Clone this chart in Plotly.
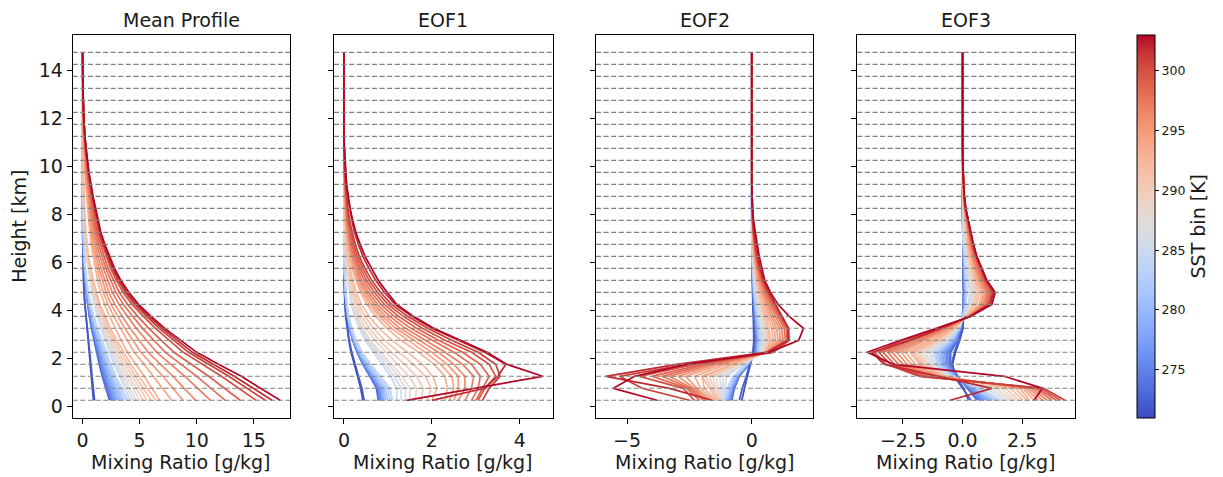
import plotly.graph_objects as go
from plotly.colors import sample_colorscale

# ---------------- data ----------------
heights_km = [0.25, 0.75, 1.25, 1.75, 2.25, 2.75, 3.25, 3.75, 4.25, 4.75,
              5.25, 5.75, 6.25, 6.75, 7.25, 7.75, 8.25, 8.75, 9.25, 9.75,
              10.25, 10.75, 11.25, 11.75, 12.25, 12.75, 13.25, 13.75, 14.25, 14.75]

sst_bins = [271, 272, 273, 274, 275, 276, 277, 278, 279, 280, 281, 282, 283, 284, 285, 286, 287,
            288, 289, 290, 291, 292, 293, 294, 295, 296, 297, 298, 299, 300, 301, 302, 303]

panel_titles = ["Mean Profile", "EOF1", "EOF2", "EOF3"]
x_label = "Mixing Ratio [g/kg]"
y_label = "Height [km]"
cbar_label = "SST bin [K]"
y_ticks = [0, 2, 4, 6, 8, 10, 12, 14]
x_ticks = [[0, 5, 10, 15], [0, 2, 4], [-5, 0], [-2.5, 0.0, 2.5]]
x_tickformats = ["", "", "", ".1f"]
cbar_ticks = [275, 280, 285, 290, 295, 300]

mean_profile = [
    [0.95, 0.86, 0.76, 0.66, 0.55, 0.45, 0.35, 0.26, 0.18, 0.12, 0.08, 0.05, 0.03, 0.02, 0.01, 0, 0, 0, 0, 0, 0, 0, 0, 0, 0, 0, 0, 0, 0, 0],
    [1.05, 0.94, 0.83, 0.72, 0.6, 0.49, 0.38, 0.28, 0.2, 0.13, 0.09, 0.06, 0.04, 0.02, 0.01, 0, 0, 0, 0, 0, 0, 0, 0, 0, 0, 0, 0, 0, 0, 0],
    [2.35, 2.02, 1.72, 1.46, 1.22, 0.99, 0.78, 0.59, 0.42, 0.31, 0.21, 0.14, 0.09, 0.07, 0.05, 0.02, 0.02, 0, 0, 0, 0, 0, 0, 0, 0, 0, 0, 0, 0, 0],
    [2.5, 2.15, 1.83, 1.55, 1.3, 1.05, 0.83, 0.63, 0.45, 0.33, 0.23, 0.15, 0.1, 0.08, 0.05, 0.03, 0.03, 0, 0, 0, 0, 0, 0, 0, 0, 0, 0, 0, 0, 0],
    [2.6, 2.24, 1.9, 1.61, 1.35, 1.09, 0.86, 0.65, 0.47, 0.34, 0.23, 0.16, 0.1, 0.08, 0.05, 0.03, 0.03, 0, 0, 0, 0, 0, 0, 0, 0, 0, 0, 0, 0, 0],
    [2.7, 2.32, 1.97, 1.67, 1.4, 1.13, 0.89, 0.68, 0.49, 0.35, 0.24, 0.16, 0.11, 0.08, 0.05, 0.03, 0.03, 0, 0, 0, 0, 0, 0, 0, 0, 0, 0, 0, 0, 0],
    [2.85, 2.45, 2.08, 1.77, 1.48, 1.2, 0.94, 0.71, 0.51, 0.37, 0.26, 0.17, 0.11, 0.09, 0.06, 0.03, 0.03, 0, 0, 0, 0, 0, 0, 0, 0, 0, 0, 0, 0, 0],
    [3.0, 2.58, 2.19, 1.86, 1.56, 1.26, 0.99, 0.75, 0.54, 0.39, 0.27, 0.18, 0.12, 0.09, 0.06, 0.03, 0.03, 0, 0, 0, 0, 0, 0, 0, 0, 0, 0, 0, 0, 0],
    [3.15, 2.71, 2.3, 1.95, 1.64, 1.32, 1.04, 0.79, 0.57, 0.41, 0.28, 0.19, 0.13, 0.09, 0.06, 0.03, 0.03, 0, 0, 0, 0, 0, 0, 0, 0, 0, 0, 0, 0, 0],
    [3.3, 2.84, 2.41, 2.05, 1.72, 1.39, 1.09, 0.83, 0.59, 0.43, 0.3, 0.2, 0.13, 0.1, 0.07, 0.03, 0.03, 0, 0, 0, 0, 0, 0, 0, 0, 0, 0, 0, 0, 0],
    [3.45, 2.97, 2.52, 2.14, 1.79, 1.45, 1.14, 0.86, 0.62, 0.45, 0.31, 0.21, 0.14, 0.1, 0.07, 0.03, 0.03, 0, 0, 0, 0, 0, 0, 0, 0, 0, 0, 0, 0, 0],
    [3.6, 3.1, 2.63, 2.23, 1.87, 1.51, 1.19, 0.9, 0.65, 0.47, 0.32, 0.22, 0.14, 0.11, 0.07, 0.04, 0.04, 0, 0, 0, 0, 0, 0, 0, 0, 0, 0, 0, 0, 0],
    [3.8, 3.27, 2.77, 2.36, 1.98, 1.6, 1.25, 0.95, 0.68, 0.49, 0.34, 0.23, 0.15, 0.11, 0.08, 0.04, 0.04, 0, 0, 0, 0, 0, 0, 0, 0, 0, 0, 0, 0, 0],
    [4.0, 3.44, 2.92, 2.48, 2.08, 1.68, 1.32, 1.0, 0.72, 0.52, 0.36, 0.24, 0.16, 0.12, 0.08, 0.04, 0.04, 0, 0, 0, 0, 0, 0, 0, 0, 0, 0, 0, 0, 0],
    [4.2, 3.7, 3.23, 2.77, 2.35, 1.97, 1.6, 1.3, 1.01, 0.8, 0.63, 0.46, 0.34, 0.25, 0.19, 0.14, 0.1, 0.07, 0.05, 0.03, 0.02, 0.01, 0.01, 0, 0, 0, 0, 0, 0, 0],
    [4.45, 3.92, 3.43, 2.94, 2.49, 2.09, 1.69, 1.38, 1.07, 0.85, 0.67, 0.49, 0.36, 0.27, 0.2, 0.15, 0.11, 0.08, 0.05, 0.04, 0.02, 0.01, 0.01, 0, 0, 0, 0, 0, 0, 0],
    [4.7, 4.14, 3.62, 3.1, 2.63, 2.21, 1.79, 1.46, 1.13, 0.89, 0.71, 0.52, 0.38, 0.28, 0.21, 0.16, 0.11, 0.08, 0.06, 0.04, 0.02, 0.01, 0.01, 0, 0, 0, 0, 0, 0, 0],
    [5.0, 4.4, 3.85, 3.3, 2.8, 2.35, 1.9, 1.55, 1.2, 0.95, 0.75, 0.55, 0.4, 0.3, 0.23, 0.17, 0.12, 0.09, 0.06, 0.04, 0.03, 0.02, 0.01, 0.01, 0, 0, 0, 0, 0, 0],
    [5.3, 4.66, 4.08, 3.5, 2.97, 2.49, 2.01, 1.64, 1.27, 1.01, 0.8, 0.58, 0.42, 0.32, 0.24, 0.17, 0.13, 0.09, 0.06, 0.04, 0.03, 0.02, 0.01, 0.01, 0, 0, 0, 0, 0, 0],
    [5.65, 4.97, 4.35, 3.73, 3.16, 2.66, 2.15, 1.75, 1.36, 1.07, 0.85, 0.62, 0.45, 0.34, 0.25, 0.19, 0.14, 0.1, 0.07, 0.05, 0.03, 0.02, 0.01, 0.01, 0, 0, 0, 0, 0, 0],
    [6.0, 5.28, 4.62, 3.96, 3.36, 2.82, 2.28, 1.86, 1.44, 1.14, 0.9, 0.66, 0.48, 0.36, 0.27, 0.2, 0.14, 0.1, 0.07, 0.05, 0.03, 0.02, 0.01, 0.01, 0, 0, 0, 0, 0, 0],
    [6.4, 5.63, 4.93, 4.22, 3.58, 3.01, 2.43, 1.98, 1.54, 1.22, 0.96, 0.7, 0.51, 0.38, 0.29, 0.21, 0.15, 0.11, 0.08, 0.05, 0.03, 0.02, 0.01, 0.01, 0, 0, 0, 0, 0, 0],
    [6.75, 6.08, 5.4, 4.66, 3.92, 3.38, 2.84, 2.36, 1.92, 1.57, 1.32, 1.09, 0.92, 0.76, 0.62, 0.53, 0.45, 0.36, 0.28, 0.22, 0.17, 0.11, 0.08, 0.05, 0.03, 0.02, 0.01, 0.01, 0.01, 0],
    [7.8, 7.02, 6.24, 5.38, 4.52, 3.9, 3.28, 2.73, 2.22, 1.81, 1.52, 1.26, 1.06, 0.88, 0.72, 0.61, 0.51, 0.41, 0.33, 0.25, 0.2, 0.13, 0.09, 0.06, 0.04, 0.02, 0.02, 0.01, 0.01, 0],
    [8.8, 7.92, 7.04, 6.07, 5.1, 4.4, 3.7, 3.08, 2.5, 2.05, 1.72, 1.43, 1.2, 0.99, 0.81, 0.69, 0.58, 0.47, 0.37, 0.28, 0.22, 0.15, 0.11, 0.07, 0.04, 0.03, 0.02, 0.01, 0.01, 0],
    [9.9, 8.91, 7.92, 6.83, 5.74, 4.95, 4.16, 3.47, 2.82, 2.31, 1.93, 1.6, 1.35, 1.12, 0.91, 0.77, 0.65, 0.52, 0.42, 0.32, 0.25, 0.17, 0.12, 0.08, 0.05, 0.03, 0.02, 0.01, 0.01, 0],
    [11.2, 10.08, 8.96, 7.73, 6.5, 5.6, 4.7, 3.92, 3.19, 2.61, 2.18, 1.81, 1.52, 1.27, 1.03, 0.87, 0.74, 0.59, 0.47, 0.36, 0.28, 0.19, 0.13, 0.09, 0.06, 0.03, 0.02, 0.01, 0.01, 0],
    [12.5, 11.25, 10.0, 8.63, 7.25, 6.25, 5.25, 4.38, 3.56, 2.91, 2.44, 2.03, 1.7, 1.41, 1.15, 0.98, 0.83, 0.66, 0.53, 0.4, 0.31, 0.21, 0.15, 0.1, 0.06, 0.04, 0.03, 0.01, 0.01, 0],
    [13.8, 12.42, 11.04, 9.52, 8.0, 6.9, 5.8, 4.83, 3.93, 3.21, 2.69, 2.24, 1.88, 1.56, 1.27, 1.08, 0.91, 0.73, 0.58, 0.44, 0.35, 0.23, 0.17, 0.11, 0.07, 0.04, 0.03, 0.01, 0.01, 0],
    [15.2, 13.68, 12.16, 10.49, 8.82, 7.6, 6.38, 5.32, 4.33, 3.54, 2.96, 2.46, 2.07, 1.72, 1.4, 1.19, 1.0, 0.81, 0.64, 0.49, 0.38, 0.26, 0.18, 0.12, 0.08, 0.05, 0.03, 0.02, 0.02, 0],
    [16.0, 14.4, 12.8, 11.04, 9.28, 8.0, 6.72, 5.6, 4.56, 3.73, 3.12, 2.59, 2.18, 1.81, 1.47, 1.25, 1.06, 0.85, 0.67, 0.51, 0.4, 0.27, 0.19, 0.13, 0.08, 0.05, 0.03, 0.02, 0.02, 0],
    [16.6, 14.94, 13.28, 11.45, 9.63, 8.3, 6.97, 5.81, 4.73, 3.87, 3.24, 2.69, 2.26, 1.88, 1.53, 1.29, 1.1, 0.88, 0.7, 0.53, 0.42, 0.28, 0.2, 0.13, 0.08, 0.05, 0.03, 0.02, 0.02, 0],
    [17.3, 15.6, 13.9, 11.9, 10.0, 8.6, 7.2, 6.0, 4.9, 4.05, 3.35, 2.8, 2.35, 1.95, 1.6, 1.35, 1.15, 0.92, 0.72, 0.56, 0.43, 0.3, 0.2, 0.13, 0.08, 0.05, 0.03, 0.02, 0.01, 0.01],
]

eof1 = [
    [0.43, 0.38, 0.31, 0.23, 0.16, 0.11, 0.07, 0.04, 0.02, 0.01, 0, 0, 0, 0, 0, 0, 0, 0, 0, 0, 0, 0, 0, 0, 0, 0, 0, 0, 0, 0],
    [0.46, 0.41, 0.33, 0.25, 0.18, 0.12, 0.08, 0.05, 0.03, 0.01, 0, 0, 0, 0, 0, 0, 0, 0, 0, 0, 0, 0, 0, 0, 0, 0, 0, 0, 0, 0],
    [0.78, 0.74, 0.59, 0.43, 0.3, 0.2, 0.12, 0.08, 0.05, 0.03, 0.02, 0.01, 0, 0, 0, 0, 0, 0, 0, 0, 0, 0, 0, 0, 0, 0, 0, 0, 0, 0],
    [0.8, 0.76, 0.6, 0.44, 0.3, 0.2, 0.13, 0.08, 0.05, 0.03, 0.02, 0.01, 0, 0, 0, 0, 0, 0, 0, 0, 0, 0, 0, 0, 0, 0, 0, 0, 0, 0],
    [0.82, 0.78, 0.62, 0.45, 0.31, 0.21, 0.13, 0.08, 0.05, 0.03, 0.02, 0.01, 0, 0, 0, 0, 0, 0, 0, 0, 0, 0, 0, 0, 0, 0, 0, 0, 0, 0],
    [0.84, 0.8, 0.63, 0.46, 0.32, 0.21, 0.13, 0.08, 0.05, 0.03, 0.02, 0.01, 0, 0, 0, 0, 0, 0, 0, 0, 0, 0, 0, 0, 0, 0, 0, 0, 0, 0],
    [0.86, 0.82, 0.65, 0.47, 0.33, 0.22, 0.14, 0.09, 0.05, 0.03, 0.02, 0.01, 0, 0, 0, 0, 0, 0, 0, 0, 0, 0, 0, 0, 0, 0, 0, 0, 0, 0],
    [0.88, 0.84, 0.66, 0.48, 0.33, 0.22, 0.14, 0.09, 0.05, 0.03, 0.02, 0.01, 0, 0, 0, 0, 0, 0, 0, 0, 0, 0, 0, 0, 0, 0, 0, 0, 0, 0],
    [0.9, 0.86, 0.68, 0.5, 0.34, 0.23, 0.14, 0.09, 0.05, 0.03, 0.02, 0.01, 0, 0, 0, 0, 0, 0, 0, 0, 0, 0, 0, 0, 0, 0, 0, 0, 0, 0],
    [0.93, 0.88, 0.7, 0.51, 0.35, 0.23, 0.15, 0.09, 0.06, 0.03, 0.02, 0.01, 0, 0, 0, 0, 0, 0, 0, 0, 0, 0, 0, 0, 0, 0, 0, 0, 0, 0],
    [0.96, 0.91, 0.72, 0.53, 0.36, 0.24, 0.15, 0.1, 0.06, 0.03, 0.02, 0.01, 0, 0, 0, 0, 0, 0, 0, 0, 0, 0, 0, 0, 0, 0, 0, 0, 0, 0],
    [1.0, 0.95, 0.75, 0.55, 0.38, 0.25, 0.16, 0.1, 0.06, 0.04, 0.02, 0.01, 0, 0, 0, 0, 0, 0, 0, 0, 0, 0, 0, 0, 0, 0, 0, 0, 0, 0],
    [1.05, 1.0, 0.79, 0.58, 0.4, 0.26, 0.17, 0.11, 0.06, 0.04, 0.02, 0.01, 0, 0, 0, 0, 0, 0, 0, 0, 0, 0, 0, 0, 0, 0, 0, 0, 0, 0],
    [1.1, 1.05, 0.83, 0.61, 0.42, 0.28, 0.18, 0.11, 0.07, 0.04, 0.02, 0.01, 0, 0, 0, 0, 0, 0, 0, 0, 0, 0, 0, 0, 0, 0, 0, 0, 0, 0],
    [1.2, 1.2, 1.06, 0.86, 0.66, 0.48, 0.35, 0.24, 0.17, 0.12, 0.08, 0.06, 0.04, 0.02, 0.01, 0.01, 0, 0, 0, 0, 0, 0, 0, 0, 0, 0, 0, 0, 0, 0],
    [1.3, 1.3, 1.14, 0.94, 0.72, 0.52, 0.38, 0.26, 0.18, 0.13, 0.09, 0.07, 0.04, 0.03, 0.01, 0.01, 0, 0, 0, 0, 0, 0, 0, 0, 0, 0, 0, 0, 0, 0],
    [1.4, 1.4, 1.23, 1.01, 0.77, 0.56, 0.41, 0.28, 0.2, 0.14, 0.1, 0.07, 0.04, 0.03, 0.01, 0.01, 0, 0, 0, 0, 0, 0, 0, 0, 0, 0, 0, 0, 0, 0],
    [1.5, 1.5, 1.32, 1.08, 0.83, 0.6, 0.44, 0.3, 0.21, 0.15, 0.11, 0.08, 0.05, 0.03, 0.02, 0.02, 0, 0, 0, 0, 0, 0, 0, 0, 0, 0, 0, 0, 0, 0],
    [1.62, 1.65, 1.48, 1.22, 0.95, 0.7, 0.5, 0.35, 0.25, 0.18, 0.13, 0.09, 0.06, 0.04, 0.02, 0.02, 0, 0, 0, 0, 0, 0, 0, 0, 0, 0, 0, 0, 0, 0],
    [1.75, 1.8, 1.65, 1.38, 1.08, 0.8, 0.58, 0.41, 0.29, 0.21, 0.15, 0.1, 0.07, 0.05, 0.03, 0.02, 0, 0, 0, 0, 0, 0, 0, 0, 0, 0, 0, 0, 0, 0],
    [1.9, 1.98, 1.85, 1.58, 1.25, 0.93, 0.67, 0.48, 0.34, 0.24, 0.17, 0.12, 0.08, 0.05, 0.03, 0.02, 0, 0, 0, 0, 0, 0, 0, 0, 0, 0, 0, 0, 0, 0],
    [2.0, 2.12, 2.02, 1.78, 1.45, 1.1, 0.8, 0.57, 0.4, 0.28, 0.2, 0.14, 0.09, 0.06, 0.04, 0.02, 0, 0, 0, 0, 0, 0, 0, 0, 0, 0, 0, 0, 0, 0],
    [2.3, 2.35, 2.3, 2.05, 1.7, 1.3, 0.98, 0.72, 0.52, 0.38, 0.27, 0.19, 0.13, 0.09, 0.06, 0.04, 0.03, 0.02, 0.01, 0, 0, 0, 0, 0, 0, 0, 0, 0, 0, 0],
    [2.4, 2.5, 2.45, 2.2, 1.85, 1.45, 1.08, 0.8, 0.58, 0.42, 0.3, 0.21, 0.15, 0.1, 0.07, 0.05, 0.03, 0.02, 0.01, 0, 0, 0, 0, 0, 0, 0, 0, 0, 0, 0],
    [2.5, 2.6, 2.6, 2.35, 2.0, 1.58, 1.18, 0.87, 0.63, 0.46, 0.34, 0.24, 0.17, 0.12, 0.08, 0.05, 0.04, 0.02, 0.01, 0, 0, 0, 0, 0, 0, 0, 0, 0, 0, 0],
    [2.6, 2.75, 2.75, 2.5, 2.15, 1.7, 1.28, 0.95, 0.69, 0.51, 0.37, 0.27, 0.19, 0.13, 0.09, 0.06, 0.04, 0.03, 0.02, 0.01, 0, 0, 0, 0, 0, 0, 0, 0, 0, 0],
    [2.75, 2.9, 2.95, 2.7, 2.3, 1.85, 1.4, 1.04, 0.76, 0.56, 0.41, 0.3, 0.21, 0.15, 0.1, 0.07, 0.05, 0.03, 0.02, 0.01, 0, 0, 0, 0, 0, 0, 0, 0, 0, 0],
    [2.9, 3.05, 3.1, 2.9, 2.5, 2.0, 1.52, 1.14, 0.84, 0.62, 0.46, 0.34, 0.24, 0.17, 0.12, 0.08, 0.06, 0.04, 0.02, 0.01, 0, 0, 0, 0, 0, 0, 0, 0, 0, 0],
    [3.0, 3.15, 3.3, 3.1, 2.7, 2.15, 1.65, 1.24, 0.92, 0.69, 0.51, 0.38, 0.27, 0.19, 0.14, 0.1, 0.07, 0.05, 0.03, 0.02, 0.01, 0, 0, 0, 0, 0, 0, 0, 0, 0],
    [3.05, 3.2, 3.45, 3.3, 2.9, 2.3, 1.78, 1.35, 1.0, 0.76, 0.57, 0.43, 0.31, 0.22, 0.16, 0.11, 0.08, 0.05, 0.03, 0.02, 0.01, 0, 0, 0, 0, 0, 0, 0, 0, 0],
    [3.15, 3.3, 3.55, 3.45, 3.05, 2.45, 1.9, 1.45, 1.08, 0.83, 0.63, 0.48, 0.35, 0.26, 0.19, 0.13, 0.09, 0.06, 0.04, 0.02, 0.01, 0, 0, 0, 0, 0, 0, 0, 0, 0],
    [2.0, 3.2, 3.5, 3.68, 3.2, 2.6, 2.0, 1.54, 1.16, 0.92, 0.72, 0.57, 0.43, 0.33, 0.24, 0.18, 0.13, 0.09, 0.06, 0.04, 0.02, 0.01, 0, 0, 0, 0, 0, 0, 0, 0],
    [1.43, 3.0, 4.52, 3.7, 3.25, 2.65, 2.04, 1.58, 1.2, 0.98, 0.78, 0.63, 0.48, 0.37, 0.27, 0.2, 0.14, 0.1, 0.06, 0.04, 0.02, 0.01, 0, 0, 0, 0, 0, 0, 0, 0],
]

eof2 = [
    [-0.4, -0.3, -0.18, -0.05, 0.05, 0.08, 0.08, 0.06, 0.04, 0.03, 0.02, 0.01, 0.01, 0, 0, 0, 0, 0, 0, 0, 0, 0, 0, 0, 0, 0, 0, 0, 0, 0],
    [-0.5, -0.38, -0.22, -0.08, 0.05, 0.1, 0.1, 0.08, 0.05, 0.03, 0.02, 0.01, 0.01, 0, 0, 0, 0, 0, 0, 0, 0, 0, 0, 0, 0, 0, 0, 0, 0, 0],
    [-0.8, -0.7, -0.5, -0.1, 0.12, 0.15, 0.12, 0.1, 0.06, 0.04, 0.02, 0.01, 0, 0, 0, 0, 0, 0, 0, 0, 0, 0, 0, 0, 0, 0, 0, 0, 0, 0],
    [-0.83, -0.72, -0.52, -0.11, 0.14, 0.17, 0.14, 0.11, 0.07, 0.05, 0.03, 0.02, 0.01, 0, 0, 0, 0, 0, 0, 0, 0, 0, 0, 0, 0, 0, 0, 0, 0, 0],
    [-0.86, -0.74, -0.54, -0.12, 0.15, 0.19, 0.16, 0.12, 0.08, 0.05, 0.03, 0.02, 0.01, 0.01, 0, 0, 0, 0, 0, 0, 0, 0, 0, 0, 0, 0, 0, 0, 0, 0],
    [-0.88, -0.77, -0.56, -0.13, 0.17, 0.2, 0.17, 0.14, 0.09, 0.06, 0.04, 0.02, 0.01, 0.01, 0, 0, 0, 0, 0, 0, 0, 0, 0, 0, 0, 0, 0, 0, 0, 0],
    [-0.91, -0.79, -0.58, -0.15, 0.18, 0.22, 0.19, 0.15, 0.1, 0.07, 0.04, 0.03, 0.01, 0.01, 0, 0, 0, 0, 0, 0, 0, 0, 0, 0, 0, 0, 0, 0, 0, 0],
    [-0.94, -0.82, -0.6, -0.16, 0.2, 0.24, 0.2, 0.16, 0.11, 0.07, 0.05, 0.03, 0.02, 0.01, 0.01, 0, 0, 0, 0, 0, 0, 0, 0, 0, 0, 0, 0, 0, 0, 0],
    [-0.97, -0.85, -0.62, -0.17, 0.21, 0.25, 0.22, 0.17, 0.12, 0.08, 0.05, 0.03, 0.02, 0.01, 0.01, 0, 0, 0, 0, 0, 0, 0, 0, 0, 0, 0, 0, 0, 0, 0],
    [-1.0, -0.87, -0.64, -0.19, 0.23, 0.27, 0.24, 0.19, 0.13, 0.09, 0.06, 0.04, 0.02, 0.01, 0.01, 0, 0, 0, 0, 0, 0, 0, 0, 0, 0, 0, 0, 0, 0, 0],
    [-1.03, -0.9, -0.66, -0.2, 0.24, 0.29, 0.26, 0.2, 0.14, 0.1, 0.06, 0.04, 0.02, 0.01, 0.01, 0, 0, 0, 0, 0, 0, 0, 0, 0, 0, 0, 0, 0, 0, 0],
    [-1.07, -0.93, -0.69, -0.22, 0.26, 0.31, 0.28, 0.22, 0.15, 0.1, 0.07, 0.04, 0.02, 0.02, 0.01, 0, 0, 0, 0, 0, 0, 0, 0, 0, 0, 0, 0, 0, 0, 0],
    [-1.11, -0.96, -0.72, -0.23, 0.28, 0.33, 0.3, 0.23, 0.16, 0.11, 0.07, 0.05, 0.03, 0.02, 0.01, 0, 0, 0, 0, 0, 0, 0, 0, 0, 0, 0, 0, 0, 0, 0],
    [-1.15, -1.0, -0.75, -0.25, 0.3, 0.35, 0.32, 0.25, 0.18, 0.12, 0.08, 0.05, 0.03, 0.02, 0.01, 0, 0, 0, 0, 0, 0, 0, 0, 0, 0, 0, 0, 0, 0, 0],
    [-1.15, -1.1, -1.0, -0.3, 0.35, 0.4, 0.38, 0.3, 0.22, 0.15, 0.1, 0.06, 0.04, 0.02, 0.01, 0.01, 0, 0, 0, 0, 0, 0, 0, 0, 0, 0, 0, 0, 0, 0],
    [-1.18, -1.18, -1.14, -0.36, 0.38, 0.45, 0.42, 0.33, 0.25, 0.17, 0.11, 0.07, 0.05, 0.03, 0.01, 0.01, 0, 0, 0, 0, 0, 0, 0, 0, 0, 0, 0, 0, 0, 0],
    [-1.21, -1.26, -1.28, -0.41, 0.42, 0.5, 0.47, 0.37, 0.28, 0.19, 0.13, 0.08, 0.05, 0.03, 0.02, 0.01, 0, 0, 0, 0, 0, 0, 0, 0, 0, 0, 0, 0, 0, 0],
    [-1.24, -1.34, -1.43, -0.47, 0.45, 0.55, 0.51, 0.4, 0.31, 0.21, 0.14, 0.09, 0.06, 0.03, 0.02, 0.01, 0, 0, 0, 0, 0, 0, 0, 0, 0, 0, 0, 0, 0, 0],
    [-1.28, -1.42, -1.57, -0.53, 0.49, 0.6, 0.56, 0.44, 0.34, 0.24, 0.16, 0.1, 0.06, 0.04, 0.02, 0.01, 0, 0, 0, 0, 0, 0, 0, 0, 0, 0, 0, 0, 0, 0],
    [-1.32, -1.5, -1.71, -0.59, 0.52, 0.65, 0.61, 0.48, 0.37, 0.26, 0.17, 0.11, 0.07, 0.04, 0.02, 0.01, 0, 0, 0, 0, 0, 0, 0, 0, 0, 0, 0, 0, 0, 0],
    [-1.36, -1.6, -1.86, -0.64, 0.56, 0.7, 0.65, 0.51, 0.39, 0.28, 0.18, 0.12, 0.07, 0.05, 0.03, 0.01, 0, 0, 0, 0, 0, 0, 0, 0, 0, 0, 0, 0, 0, 0],
    [-1.4, -1.7, -2.0, -0.7, 0.6, 0.75, 0.7, 0.55, 0.42, 0.3, 0.2, 0.13, 0.08, 0.05, 0.03, 0.01, 0, 0, 0, 0, 0, 0, 0, 0, 0, 0, 0, 0, 0, 0],
    [-1.45, -1.9, -2.0, -0.8, 0.5, 0.85, 0.8, 0.62, 0.48, 0.34, 0.23, 0.15, 0.09, 0.06, 0.03, 0.02, 0.01, 0, 0, 0, 0, 0, 0, 0, 0, 0, 0, 0, 0, 0],
    [-1.55, -2.05, -2.3, -1.0, 0.55, 0.95, 0.9, 0.7, 0.54, 0.38, 0.26, 0.17, 0.11, 0.07, 0.04, 0.02, 0.01, 0, 0, 0, 0, 0, 0, 0, 0, 0, 0, 0, 0, 0],
    [-1.65, -2.2, -2.65, -1.2, 0.6, 1.05, 1.0, 0.78, 0.6, 0.42, 0.29, 0.19, 0.12, 0.08, 0.04, 0.02, 0.01, 0, 0, 0, 0, 0, 0, 0, 0, 0, 0, 0, 0, 0],
    [-1.75, -2.3, -2.95, -1.4, 0.65, 1.15, 1.1, 0.86, 0.66, 0.47, 0.32, 0.21, 0.13, 0.09, 0.05, 0.03, 0.01, 0, 0, 0, 0, 0, 0, 0, 0, 0, 0, 0, 0, 0],
    [-1.85, -2.4, -3.3, -1.6, 0.68, 1.25, 1.2, 0.95, 0.72, 0.51, 0.35, 0.23, 0.15, 0.1, 0.05, 0.03, 0.01, 0, 0, 0, 0, 0, 0, 0, 0, 0, 0, 0, 0, 0],
    [-1.95, -2.5, -3.6, -1.8, 0.72, 1.35, 1.3, 1.03, 0.78, 0.55, 0.38, 0.25, 0.16, 0.11, 0.06, 0.03, 0.01, 0, 0, 0, 0, 0, 0, 0, 0, 0, 0, 0, 0, 0],
    [-2.1, -2.6, -4.0, -2.0, 0.75, 1.42, 1.38, 1.1, 0.84, 0.6, 0.41, 0.28, 0.18, 0.12, 0.07, 0.04, 0.02, 0, 0, 0, 0, 0, 0, 0, 0, 0, 0, 0, 0, 0],
    [-2.3, -2.75, -4.5, -2.3, 0.8, 1.47, 1.45, 1.17, 0.9, 0.64, 0.44, 0.3, 0.2, 0.13, 0.07, 0.04, 0.02, 0, 0, 0, 0, 0, 0, 0, 0, 0, 0, 0, 0, 0],
    [-2.5, -4.4, -5.3, -2.6, 0.85, 1.5, 1.47, 1.2, 0.93, 0.67, 0.46, 0.32, 0.22, 0.14, 0.08, 0.04, 0.02, 0, 0, 0, 0, 0, 0, 0, 0, 0, 0, 0, 0, 0],
    [-1.6, -3.3, -5.85, -3.0, 0.6, 1.45, 1.47, 1.2, 0.95, 0.7, 0.48, 0.34, 0.24, 0.16, 0.09, 0.05, 0.02, 0, 0, 0, 0, 0, 0, 0, 0, 0, 0, 0, 0, 0],
    [-3.8, -5.55, -4.7, -2.6, 0.7, 1.88, 2.07, 1.5, 1.05, 0.75, 0.52, 0.4, 0.3, 0.22, 0.13, 0.07, 0.03, 0.01, 0, 0, 0, 0, 0, 0, 0, 0, 0, 0, 0, 0],
]

eof3 = [
    [0.25, 0.05, -0.3, -0.42, -0.3, -0.12, 0.02, 0.05, 0.05, 0.04, 0.03, 0.02, 0.01, 0, 0, 0, 0, 0, 0, 0, 0, 0, 0, 0, 0, 0, 0, 0, 0, 0],
    [0.35, 0.0, -0.35, -0.45, -0.35, -0.15, 0.0, 0.05, 0.06, 0.05, 0.03, 0.02, 0.01, 0, 0, 0, 0, 0, 0, 0, 0, 0, 0, 0, 0, 0, 0, 0, 0, 0],
    [0.6, 0.2, -0.2, -0.5, -0.5, -0.2, -0.05, 0.0, 0.03, 0.04, 0.03, 0.02, 0.01, 0, 0, 0, 0, 0, 0, 0, 0, 0, 0, 0, 0, 0, 0, 0, 0, 0],
    [0.68, 0.25, -0.22, -0.55, -0.56, -0.23, -0.06, 0.0, 0.04, 0.05, 0.04, 0.03, 0.02, 0, 0, 0, 0, 0, 0, 0, 0, 0, 0, 0, 0, 0, 0, 0, 0, 0],
    [0.76, 0.29, -0.25, -0.61, -0.63, -0.26, -0.07, 0.01, 0.05, 0.07, 0.05, 0.04, 0.02, 0.01, 0.01, 0, 0, 0, 0, 0, 0, 0, 0, 0, 0, 0, 0, 0, 0, 0],
    [0.84, 0.34, -0.27, -0.66, -0.69, -0.29, -0.08, 0.01, 0.06, 0.08, 0.06, 0.04, 0.03, 0.01, 0.01, 0.01, 0, 0, 0, 0, 0, 0, 0, 0, 0, 0, 0, 0, 0, 0],
    [0.92, 0.38, -0.29, -0.72, -0.75, -0.33, -0.09, 0.01, 0.07, 0.09, 0.07, 0.05, 0.04, 0.02, 0.01, 0.01, 0, 0, 0, 0, 0, 0, 0, 0, 0, 0, 0, 0, 0, 0],
    [1.01, 0.43, -0.31, -0.77, -0.82, -0.36, -0.1, 0.01, 0.08, 0.1, 0.08, 0.06, 0.04, 0.02, 0.01, 0.01, 0, 0, 0, 0, 0, 0, 0, 0, 0, 0, 0, 0, 0, 0],
    [1.1, 0.48, -0.34, -0.83, -0.89, -0.39, -0.11, 0.02, 0.1, 0.12, 0.1, 0.07, 0.05, 0.03, 0.02, 0.01, 0, 0, 0, 0, 0, 0, 0, 0, 0, 0, 0, 0, 0, 0],
    [1.18, 0.52, -0.36, -0.88, -0.95, -0.42, -0.11, 0.02, 0.11, 0.13, 0.11, 0.08, 0.05, 0.03, 0.02, 0.01, 0, 0, 0, 0, 0, 0, 0, 0, 0, 0, 0, 0, 0, 0],
    [1.26, 0.57, -0.38, -0.94, -1.01, -0.46, -0.12, 0.02, 0.12, 0.14, 0.12, 0.09, 0.06, 0.04, 0.02, 0.01, 0, 0, 0, 0, 0, 0, 0, 0, 0, 0, 0, 0, 0, 0],
    [1.34, 0.61, -0.41, -0.99, -1.07, -0.49, -0.13, 0.02, 0.13, 0.15, 0.13, 0.09, 0.07, 0.04, 0.02, 0.02, 0, 0, 0, 0, 0, 0, 0, 0, 0, 0, 0, 0, 0, 0],
    [1.42, 0.66, -0.43, -1.05, -1.14, -0.52, -0.14, 0.03, 0.14, 0.17, 0.14, 0.1, 0.07, 0.05, 0.03, 0.02, 0, 0, 0, 0, 0, 0, 0, 0, 0, 0, 0, 0, 0, 0],
    [1.5, 0.7, -0.45, -1.1, -1.2, -0.55, -0.15, 0.03, 0.15, 0.18, 0.15, 0.11, 0.08, 0.05, 0.03, 0.02, 0, 0, 0, 0, 0, 0, 0, 0, 0, 0, 0, 0, 0, 0],
    [1.6, 0.8, -0.5, -1.2, -1.3, -0.6, -0.2, 0.05, 0.25, 0.3, 0.22, 0.16, 0.1, 0.07, 0.05, 0.03, 0.02, 0.01, 0, 0, 0, 0, 0, 0, 0, 0, 0, 0, 0, 0],
    [1.76, 1.0, -0.54, -1.27, -1.41, -0.67, -0.22, 0.06, 0.3, 0.36, 0.27, 0.2, 0.13, 0.09, 0.06, 0.04, 0.03, 0.01, 0, 0, 0, 0, 0, 0, 0, 0, 0, 0, 0, 0],
    [1.92, 1.2, -0.59, -1.34, -1.53, -0.74, -0.24, 0.08, 0.35, 0.41, 0.32, 0.24, 0.16, 0.11, 0.07, 0.05, 0.03, 0.02, 0, 0, 0, 0, 0, 0, 0, 0, 0, 0, 0, 0],
    [2.07, 1.4, -0.63, -1.41, -1.64, -0.81, -0.26, 0.09, 0.4, 0.47, 0.36, 0.27, 0.19, 0.13, 0.09, 0.06, 0.04, 0.02, 0, 0, 0, 0, 0, 0, 0, 0, 0, 0, 0, 0],
    [2.23, 1.6, -0.67, -1.49, -1.76, -0.89, -0.29, 0.11, 0.45, 0.53, 0.41, 0.31, 0.21, 0.16, 0.1, 0.07, 0.04, 0.02, 0, 0, 0, 0, 0, 0, 0, 0, 0, 0, 0, 0],
    [2.38, 1.8, -0.71, -1.56, -1.87, -0.96, -0.31, 0.12, 0.5, 0.59, 0.46, 0.35, 0.24, 0.18, 0.12, 0.08, 0.05, 0.02, 0, 0, 0, 0, 0, 0, 0, 0, 0, 0, 0, 0],
    [2.54, 2.0, -0.76, -1.63, -1.99, -1.03, -0.33, 0.14, 0.55, 0.64, 0.5, 0.38, 0.27, 0.2, 0.13, 0.09, 0.05, 0.03, 0, 0, 0, 0, 0, 0, 0, 0, 0, 0, 0, 0],
    [2.7, 2.2, -0.8, -1.7, -2.1, -1.1, -0.35, 0.15, 0.6, 0.7, 0.55, 0.42, 0.3, 0.22, 0.15, 0.1, 0.06, 0.03, 0, 0, 0, 0, 0, 0, 0, 0, 0, 0, 0, 0],
    [2.8, 2.4, -0.8, -1.8, -2.2, -1.2, -0.4, 0.2, 0.7, 0.8, 0.6, 0.45, 0.33, 0.25, 0.18, 0.12, 0.07, 0.04, 0.02, 0.01, 0, 0, 0, 0, 0, 0, 0, 0, 0, 0],
    [2.99, 2.53, -0.93, -1.98, -2.39, -1.36, -0.48, 0.22, 0.76, 0.86, 0.65, 0.49, 0.36, 0.27, 0.2, 0.13, 0.08, 0.04, 0.02, 0.01, 0, 0, 0, 0, 0, 0, 0, 0, 0, 0],
    [3.18, 2.65, -1.05, -2.15, -2.58, -1.53, -0.55, 0.24, 0.81, 0.93, 0.7, 0.53, 0.39, 0.3, 0.22, 0.15, 0.08, 0.05, 0.03, 0.01, 0, 0, 0, 0, 0, 0, 0, 0, 0, 0],
    [3.36, 2.78, -1.18, -2.33, -2.76, -1.69, -0.63, 0.26, 0.87, 0.99, 0.75, 0.57, 0.42, 0.32, 0.24, 0.16, 0.09, 0.05, 0.03, 0.01, 0, 0, 0, 0, 0, 0, 0, 0, 0, 0],
    [3.55, 2.9, -1.3, -2.5, -2.95, -1.85, -0.7, 0.28, 0.93, 1.05, 0.8, 0.62, 0.46, 0.35, 0.26, 0.18, 0.1, 0.05, 0.03, 0.02, 0, 0, 0, 0, 0, 0, 0, 0, 0, 0],
    [3.74, 3.03, -1.43, -2.68, -3.14, -2.01, -0.78, 0.29, 0.98, 1.11, 0.85, 0.66, 0.49, 0.37, 0.27, 0.19, 0.11, 0.06, 0.03, 0.02, 0, 0, 0, 0, 0, 0, 0, 0, 0, 0],
    [3.93, 3.15, -1.55, -2.85, -3.33, -2.18, -0.85, 0.31, 1.04, 1.18, 0.9, 0.7, 0.52, 0.39, 0.29, 0.2, 0.11, 0.06, 0.04, 0.02, 0, 0, 0, 0, 0, 0, 0, 0, 0, 0],
    [4.11, 3.28, -1.68, -3.03, -3.51, -2.34, -0.93, 0.33, 1.09, 1.24, 0.95, 0.74, 0.55, 0.42, 0.31, 0.22, 0.12, 0.07, 0.04, 0.02, 0, 0, 0, 0, 0, 0, 0, 0, 0, 0],
    [4.3, 3.4, -1.8, -3.2, -3.7, -2.5, -1.0, 0.35, 1.15, 1.3, 1.0, 0.78, 0.58, 0.44, 0.33, 0.23, 0.13, 0.07, 0.04, 0.02, 0, 0, 0, 0, 0, 0, 0, 0, 0, 0],
    [-0.52, 1.23, -1.0, -3.3, -3.8, -2.2, -0.9, 0.3, 1.15, 1.3, 0.98, 0.78, 0.58, 0.44, 0.33, 0.22, 0.13, 0.07, 0.04, 0.02, 0.01, 0, 0, 0, 0, 0, 0, 0, 0, 0],
    [3.0, 3.35, 1.75, -2.9, -4.0, -2.6, -1.1, 0.35, 1.23, 1.37, 1.02, 0.81, 0.6, 0.46, 0.35, 0.24, 0.14, 0.08, 0.04, 0.02, 0.01, 0, 0, 0, 0, 0, 0, 0, 0, 0],
]

panels = [mean_profile, eof1, eof2, eof3]

# ---------------- style ----------------
W, H = 1223, 477
FONT = "DejaVu Sans"
TXT = "#1a1a1a"
FS = 19

coolwarm = [
    [0.0, "rgb(59,76,192)"], [0.03125, "rgb(68,90,204)"], [0.0625, "rgb(77,104,215)"],
    [0.09375, "rgb(87,117,225)"], [0.125, "rgb(98,130,234)"], [0.15625, "rgb(108,142,241)"],
    [0.1875, "rgb(119,154,247)"], [0.21875, "rgb(130,165,251)"], [0.25, "rgb(141,176,254)"],
    [0.28125, "rgb(152,185,255)"], [0.3125, "rgb(163,194,255)"], [0.34375, "rgb(174,201,253)"],
    [0.375, "rgb(184,208,249)"], [0.40625, "rgb(194,213,244)"], [0.4375, "rgb(204,217,238)"],
    [0.46875, "rgb(213,219,230)"], [0.5, "rgb(221,221,221)"], [0.53125, "rgb(229,216,209)"],
    [0.5625, "rgb(236,211,197)"], [0.59375, "rgb(241,204,185)"], [0.625, "rgb(245,196,173)"],
    [0.65625, "rgb(247,187,160)"], [0.6875, "rgb(247,177,148)"], [0.71875, "rgb(247,166,135)"],
    [0.75, "rgb(244,154,123)"], [0.78125, "rgb(241,141,111)"], [0.8125, "rgb(236,127,99)"],
    [0.84375, "rgb(229,112,88)"], [0.875, "rgb(222,96,77)"], [0.90625, "rgb(213,80,66)"],
    [0.9375, "rgb(203,62,56)"], [0.96875, "rgb(192,40,47)"], [1.0, "rgb(180,4,38)"],
]

smin, smax = min(sst_bins), max(sst_bins)
line_colors = sample_colorscale(coolwarm, [(s - smin) / (smax - smin) for s in sst_bins])

x_px = [(72.7, 290.0), (334.0, 552.7), (596.0, 813.3), (857.3, 1075.0)]
y_dom = [1 - 417.7 / H, 1 - 35.0 / H]

fig = go.Figure()

for k, data in enumerate(panels):
    sfx = "" if k == 0 else str(k + 1)
    for row, col in zip(data, line_colors):
        fig.add_trace(go.Scatter(
            x=row, y=heights_km, mode="lines",
            line=dict(color=col, width=1.7),
            xaxis="x" + sfx, yaxis="y" + sfx,
            showlegend=False, hoverinfo="skip"))

# colorbar
fig.add_trace(go.Scatter(
    x=[None], y=[None], mode="markers", xaxis="x4", yaxis="y4",
    showlegend=False, hoverinfo="skip",
    marker=dict(color=[smin, smax], colorscale=coolwarm, cmin=smin, cmax=smax,
                showscale=True,
                colorbar=dict(
                    x=1137.3 / W, xanchor="left", xpad=0, ypad=0,
                    y=y_dom[0], yanchor="bottom", len=y_dom[1] - y_dom[0], lenmode="fraction",
                    thickness=18.4, thicknessmode="pixels",
                    outlinewidth=1, outlinecolor="black",
                    ticks="outside", ticklen=4, tickwidth=1, tickcolor="black",
                    tickvals=cbar_ticks, tickfont=dict(family=FONT, size=12.5, color=TXT),
                    title=dict(text=cbar_label, side="right",
                               font=dict(family=FONT, size=FS, color=TXT))))))

layout = dict(width=W, height=H, margin=dict(l=0, r=0, t=0, b=0),
              paper_bgcolor="white", plot_bgcolor="white",
              font=dict(family=FONT, size=FS, color=TXT))

ymin, ymax = min(heights_km), max(heights_km)
ypad = 0.05 * (ymax - ymin)
shapes = []
annotations = []
for k, data in enumerate(panels):
    sfx = "" if k == 0 else str(k + 1)
    vals = [v for row in data for v in row]
    lo, hi = min(vals), max(vals)
    pad = 0.05 * (hi - lo)
    x0, x1 = x_px[k]
    layout["xaxis" + sfx] = dict(
        domain=[x0 / W, x1 / W], anchor="y" + sfx, range=[lo - pad, hi + pad],
        tickvals=x_ticks[k], tickformat=x_tickformats[k],
        ticks="outside", ticklen=5, tickwidth=1, tickcolor="black",
        showline=True, mirror=True, linecolor="black", linewidth=1,
        showgrid=False, zeroline=False,
        tickfont=dict(family=FONT, size=FS, color=TXT))
    layout["yaxis" + sfx] = dict(
        domain=y_dom, anchor="x" + sfx, range=[ymin - ypad, ymax + ypad],
        tickvals=y_ticks, showticklabels=(k == 0),
        ticks="outside", ticklen=5, tickwidth=1, tickcolor="black",
        showline=True, mirror=True, linecolor="black", linewidth=1,
        showgrid=False, zeroline=False,
        tickfont=dict(family=FONT, size=FS, color=TXT))
    for h in heights_km:
        shapes.append(dict(type="line", xref="x" + sfx + " domain", yref="y" + sfx,
                           x0=0, x1=1, y0=h, y1=h, layer="above",
                           line=dict(color="#808080", width=1.1, dash="5px,2.6px")))
    cx = (x0 + x1) / 2 / W
    annotations.append(dict(text=panel_titles[k], x=cx, y=1 - 20.0 / H, xref="paper", yref="paper",
                            xanchor="center", yanchor="middle", showarrow=False,
                            font=dict(family=FONT, size=FS, color=TXT)))
    annotations.append(dict(text=x_label, x=cx, y=1 - 461.5 / H, xref="paper", yref="paper",
                            xanchor="center", yanchor="middle", showarrow=False,
                            font=dict(family=FONT, size=FS, color=TXT)))

annotations.append(dict(text=y_label, x=19.5 / W, y=(y_dom[0] + y_dom[1]) / 2, xref="paper", yref="paper",
                        xanchor="center", yanchor="middle", textangle=-90, showarrow=False,
                        font=dict(family=FONT, size=FS, color=TXT)))

layout["shapes"] = shapes
layout["annotations"] = annotations
fig.update_layout(**layout)

fig.write_html("out.html", config={"displayModeBar": False, "staticPlot": True},
               post_script="document.body.style.margin='0px';document.body.style.overflow='hidden';")
